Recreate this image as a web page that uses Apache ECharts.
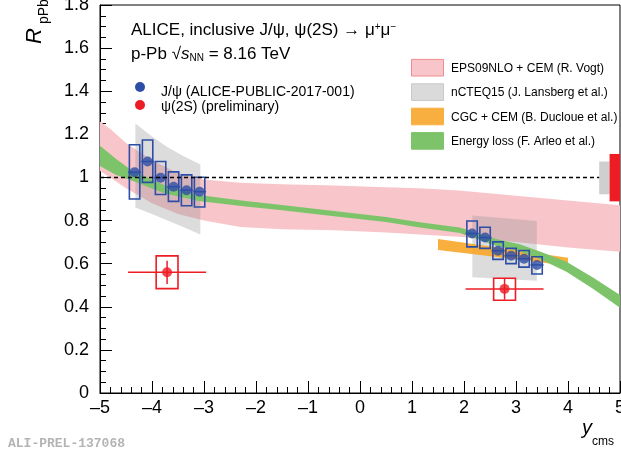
<!DOCTYPE html>
<html>
<head>
<meta charset="utf-8">
<script src="https://cdn.jsdelivr.net/npm/echarts@6/dist/echarts.min.js"></script>
<style>
html, body { margin: 0; padding: 0; background: #fff; }
#chart { width: 621px; height: 457px; }
</style>
</head>
<body>
<div id="chart"></div>
<script>
// J/psi points (bin centre, value, syst. box low/high)
var jpsiX = [-4.335, -4.085, -3.835, -3.585, -3.335, -3.085, 2.155, 2.405, 2.655, 2.905, 3.155, 3.405];
var jpsiY = [1.024, 1.074, 0.999, 0.957, 0.941, 0.934, 0.740, 0.721, 0.660, 0.637, 0.623, 0.594];
var jpsiSysLo = [0.900, 0.977, 0.921, 0.889, 0.869, 0.863, 0.678, 0.671, 0.620, 0.600, 0.584, 0.552];
var jpsiSysHi = [1.152, 1.174, 1.074, 1.026, 1.012, 1.001, 0.798, 0.769, 0.701, 0.671, 0.661, 0.632];

// psi(2S) points
var psiX = [-3.71, 2.78];
var psiY = [0.560, 0.483];
var psiXLo = [-4.46, 2.03];
var psiXHi = [-2.96, 3.53];
var psiStatLo = [0.506, 0.433];
var psiStatHi = [0.613, 0.533];
var psiSysLo = [0.484, 0.430];
var psiSysHi = [0.636, 0.532];

// EPS09NLO + CEM band
var pinkX = [-5, -4.8, -4.5, -4, -3.5, -3, -2.3, -1.5, -0.5, 0.5, 1.15, 1.9, 3, 4, 5];
var pinkHi = [1.26, 1.225, 1.16, 1.08, 1.02, 0.99, 0.975, 0.968, 0.963, 0.955, 0.95, 0.94, 0.915, 0.893, 0.871];
var pinkLo = [1.03, 1.0, 0.95, 0.88, 0.83, 0.80, 0.77, 0.76, 0.755, 0.745, 0.735, 0.725, 0.70, 0.675, 0.655];

// nCTEQ15 bands (backward / forward)
var grayBX = [-4.32, -4.0, -3.7, -3.4, -3.07];
var grayBHi = [1.25, 1.19, 1.14, 1.10, 1.06];
var grayBLo = [0.86, 0.83, 0.80, 0.77, 0.735];
var grayFX = [2.16, 3.40];
var grayFHi = [0.824, 0.798];
var grayFLo = [0.537, 0.521];

// CGC + CEM band
var orangeX = [1.5, 2.75, 4.0];
var orangeHi = [0.714, 0.672, 0.627];
var orangeLo = [0.663, 0.627, 0.590];

// Energy loss band
var greenX = [-5, -4.7, -4.39, -4.0, -3.75, -3.1, -2.2, -1.5, -0.5, 0.5, 1.15, 1.92, 2.6, 3.07, 3.5, 3.97, 4.48, 5.0];
var greenHi = [1.147, 1.088, 1.032, 0.991, 0.963, 0.919, 0.891, 0.872, 0.844, 0.817, 0.792, 0.768, 0.716, 0.690, 0.653, 0.609, 0.536, 0.455];
var greenLo = [1.053, 1.012, 0.986, 0.949, 0.925, 0.891, 0.865, 0.848, 0.820, 0.793, 0.768, 0.742, 0.684, 0.658, 0.617, 0.563, 0.484, 0.395];

// global uncertainty boxes at R = 1
var globalXLo = [4.6, 4.8];
var globalXHi = [4.8, 5.0];
var globalLo = [0.922, 0.889];
var globalHi = [1.074, 1.109];

var xTicks = [-5, -4, -3, -2, -1, 0, 1, 2, 3, 4, 5];
var yTicks = [0, 0.2, 0.4, 0.6, 0.8, 1, 1.2, 1.4, 1.6, 1.8];

var FONT = "'Liberation Sans', Arial, Helvetica, sans-serif";
var BLUE = '#2d4da6';
var RED = '#ee1c25';

function band(xs, lo, hi, color) {
    return {
        type: 'custom',
        silent: true,
        data: [[xs[0], lo[0]]],
        renderItem: function (params, api) {
            var pts = [];
            for (var i = 0; i < xs.length; i++) pts.push(api.coord([xs[i], hi[i]]));
            for (var j = xs.length - 1; j >= 0; j--) pts.push(api.coord([xs[j], lo[j]]));
            return { type: 'polygon', shape: { points: pts }, style: { fill: color } };
        }
    };
}

function boxes(data, color, filled) {
    return {
        type: 'custom',
        silent: true,
        data: data,
        renderItem: function (params, api) {
            var p1 = api.coord([api.value(0), api.value(3)]);
            var p2 = api.coord([api.value(1), api.value(2)]);
            return {
                type: 'rect',
                shape: { x: p1[0], y: p1[1], width: p2[0] - p1[0], height: p2[1] - p1[1] },
                style: filled ? { fill: color } : { fill: 'none', stroke: color, lineWidth: 1.6 }
            };
        }
    };
}

function errBars(data, color) {
    // [x, y, xlo, xhi, ylo, yhi]
    return {
        type: 'custom',
        silent: true,
        data: data,
        renderItem: function (params, api) {
            var a = api.coord([api.value(2), api.value(1)]);
            var b = api.coord([api.value(3), api.value(1)]);
            var c = api.coord([api.value(0), api.value(4)]);
            var d = api.coord([api.value(0), api.value(5)]);
            return {
                type: 'group',
                children: [
                    { type: 'line', shape: { x1: a[0], y1: a[1], x2: b[0], y2: b[1] }, style: { stroke: color, lineWidth: 1.5 } },
                    { type: 'line', shape: { x1: c[0], y1: c[1], x2: d[0], y2: d[1] }, style: { stroke: color, lineWidth: 1.5 } }
                ]
            };
        }
    };
}

var jpsiBox = [], jpsiErr = [], jpsiPts = [];
for (var i = 0; i < jpsiX.length; i++) {
    jpsiBox.push([jpsiX[i] - 0.1, jpsiX[i] + 0.1, jpsiSysLo[i], jpsiSysHi[i]]);
    jpsiErr.push([jpsiX[i], jpsiY[i], jpsiX[i] - 0.125, jpsiX[i] + 0.125, jpsiY[i], jpsiY[i]]);
    jpsiPts.push([jpsiX[i], jpsiY[i]]);
}
var psiBox = [], psiErr = [], psiPts = [];
for (var k = 0; k < psiX.length; k++) {
    psiBox.push([psiX[k] - 0.21, psiX[k] + 0.21, psiSysLo[k], psiSysHi[k]]);
    psiErr.push([psiX[k], psiY[k], psiXLo[k], psiXHi[k], psiStatLo[k], psiStatHi[k]]);
    psiPts.push([psiX[k], psiY[k]]);
}
var globalBox = [];
for (var g = 0; g < globalXLo.length; g++) {
    globalBox.push([globalXLo[g], globalXHi[g], globalLo[g], globalHi[g]]);
}

var chart = echarts.init(document.getElementById('chart'));

var legendRows = [
    { name: 'EPS09NLO + CEM (R. Vogt)', fill: '#f8c6ca', stroke: '#f08c8c' },
    { name: 'nCTEQ15 (J. Lansberg et al.)', fill: '#dadada', stroke: '#c8c8c8' },
    { name: 'CGC + CEM (B. Ducloue et al.)', fill: '#f9ae40', stroke: '#f9ae40' },
    { name: 'Energy loss (F. Arleo et al.)', fill: '#7dc36a', stroke: '#7dc36a' }
];
var graphics = [];
legendRows.forEach(function (r, n) {
    var cy = 67.7 + n * 24.4;
    graphics.push({ type: 'rect', shape: { x: 411.5, y: cy - 8.3, width: 32, height: 16.6 }, style: { fill: r.fill, stroke: r.stroke, lineWidth: 1 } });
    graphics.push({ type: 'text', x: 451, y: cy + 0.8, style: { text: r.name, font: '12px ' + FONT, fill: '#000', textVerticalAlign: 'middle' } });
});

graphics = graphics.concat([
    { type: 'text', x: 131, y: 30.5, style: {
        text: 'ALICE, inclusive J/ψ, ψ(2S) → μ{sup|+}μ{sup|−}',
        font: '17px ' + FONT, fill: '#000', textVerticalAlign: 'middle',
        rich: { sup: { fontSize: 10, fontFamily: FONT, verticalAlign: 'top', padding: [0, 0, 6, 0] } }
    } },
    { type: 'text', x: 131, y: 54.5, style: {
        text: 'p-Pb √{it|s}{sub|NN} = 8.16 TeV',
        font: '17px ' + FONT, fill: '#000', textVerticalAlign: 'middle',
        rich: {
            it: { fontSize: 17, fontStyle: 'italic', fontFamily: FONT },
            sub: { fontSize: 10, fontFamily: FONT, verticalAlign: 'bottom', padding: [6, 0, 0, 0] }
        }
    } },
    { type: 'circle', shape: { cx: 140, cy: 87, r: 5 }, style: { fill: BLUE } },
    { type: 'circle', shape: { cx: 140, cy: 105, r: 5 }, style: { fill: RED } },
    { type: 'text', x: 161, y: 91.7, style: { text: 'J/ψ (ALICE-PUBLIC-2017-001)', font: '14px ' + FONT, fill: '#000', textVerticalAlign: 'middle' } },
    { type: 'text', x: 161, y: 107.5, style: { text: 'ψ(2S) (preliminary)', font: '14px ' + FONT, fill: '#000', textVerticalAlign: 'middle' } },
    // axis titles
    { type: 'text', x: 35, y: 44, rotation: Math.PI / 2, style: { text: 'R', font: 'italic 22px ' + FONT, fill: '#000', textVerticalAlign: 'middle' } },
    { type: 'text', x: 44.5, y: 24, rotation: Math.PI / 2, style: { text: 'pPb', font: '14px ' + FONT, fill: '#000', textVerticalAlign: 'middle' } },
    { type: 'text', x: 582, y: 428.6, style: { text: 'y', font: 'italic 20px ' + FONT, fill: '#000', textVerticalAlign: 'middle' } },
    { type: 'text', x: 592, y: 442, style: { text: 'cms', font: '12px ' + FONT, fill: '#000', textVerticalAlign: 'middle' } },
    { type: 'text', x: 8, y: 444, style: { text: 'ALI-PREL-137068', font: 'bold 13px "Liberation Mono", monospace', fill: '#b4b4b4', textVerticalAlign: 'middle' } }
]);

var option = {
    animation: false,
    backgroundColor: '#fff',
    grid: { left: 100, right: 1, top: 5, bottom: 64, show: true, borderColor: '#000', borderWidth: 1, outerBoundsMode: 'none' },
    xAxis: {
        type: 'value', min: xTicks[0], max: xTicks[xTicks.length - 1], interval: 1,
        axisLine: { onZero: false, lineStyle: { color: '#000', width: 1 } },
        axisTick: { inside: true, length: 12, lineStyle: { color: '#000' } },
        minorTick: { show: true, splitNumber: 5, length: 6, lineStyle: { color: '#000' } },
        splitLine: { show: false },
        axisLabel: { color: '#000', fontSize: 18, fontFamily: FONT, margin: 6,
            formatter: function (v) { return v < 0 ? '–' + Math.abs(v) : String(v); } }
    },
    yAxis: {
        type: 'value', min: yTicks[0], max: yTicks[yTicks.length - 1], interval: 0.2,
        axisLine: { onZero: false, lineStyle: { color: '#000', width: 1 } },
        axisTick: { inside: true, length: 12, lineStyle: { color: '#000' } },
        minorTick: { show: true, splitNumber: 4, length: 6, lineStyle: { color: '#000' } },
        splitLine: { show: false },
        axisLabel: { color: '#000', fontSize: 18, fontFamily: FONT, margin: 11,
            formatter: function (v) { return (v === 0 || v === 1) ? String(v) : v.toFixed(1); } }
    },
    graphic: graphics,
    series: [
        band(pinkX, pinkLo, pinkHi, '#f8c6ca'),
        band(grayBX, grayBLo, grayBHi, 'rgba(140,140,140,0.3)'),
        band(grayFX, grayFLo, grayFHi, 'rgba(140,140,140,0.3)'),
        band(orangeX, orangeLo, orangeHi, 'rgba(248,166,40,0.9)'),
        band(greenX, greenLo, greenHi, '#7dc36a'),
        {
            type: 'line', silent: true, symbol: 'none',
            data: [[-5, 1], [4.6, 1]],
            lineStyle: { color: '#000', width: 1.5, type: [4, 3] }
        },
        boxes(globalBox.slice(0, 1), '#cfcfcf', true),
        boxes(globalBox.slice(1), RED, true),
        boxes(jpsiBox, BLUE, false),
        errBars(jpsiErr, BLUE),
        { type: 'scatter', silent: true, data: jpsiPts, symbol: 'circle', symbolSize: 10, itemStyle: { color: BLUE } },
        boxes(psiBox, RED, false),
        errBars(psiErr, RED),
        { type: 'scatter', silent: true, data: psiPts, symbol: 'circle', symbolSize: 10, itemStyle: { color: RED } }
    ]
};
chart.setOption(option);
</script>
</body>
</html>
